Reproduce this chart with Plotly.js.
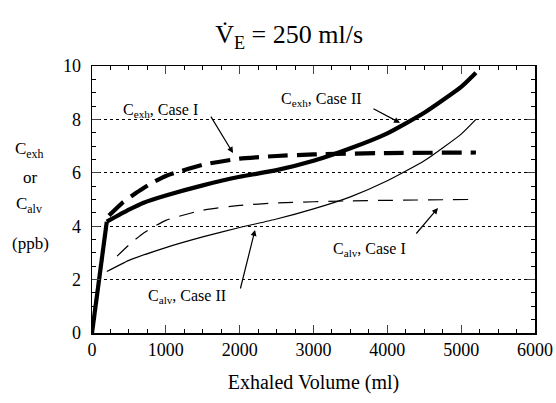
<!DOCTYPE html>
<html><head><meta charset="utf-8">
<script src="https://cdn.plot.ly/plotly-3.0.1.min.js"></script>
<style>body{margin:0;background:#fff}#c{width:556px;height:403px}</style>
</head><body><div id="c"></div>
<script>
// Exhaled volume (ml) and concentrations (ppb)
const volRise   = [0, 200];
const cexhRise  = [0, 4.17];
const volCexhII = [200, 500, 700, 1000, 1500, 2000, 2500, 3000, 3500, 4000, 4500, 5000, 5200];
const cexhII    = [4.17, 4.62, 4.88, 5.15, 5.53, 5.85, 6.1, 6.45, 6.92, 7.48, 8.25, 9.22, 9.75];
const volCexhI  = [230, 400, 600, 800, 1000, 1500, 2000, 2500, 3000, 4000, 5200];
const cexhI     = [4.4, 4.85, 5.25, 5.6, 5.88, 6.3, 6.53, 6.63, 6.69, 6.74, 6.76];
const volCalvI  = [340, 500, 700, 1000, 1500, 2000, 2500, 3500, 5100];
const calvI     = [2.88, 3.3, 3.75, 4.22, 4.6, 4.78, 4.87, 4.95, 5.0];
const volCalvII = [200, 500, 1000, 1500, 2000, 2500, 3000, 3500, 4000, 4500, 5000, 5200];
const calvII    = [2.3, 2.72, 3.2, 3.6, 3.95, 4.27, 4.65, 5.1, 5.7, 6.45, 7.45, 8.0];
const xTicks = [0, 1000, 2000, 3000, 4000, 5000, 6000];
const yTicks = [0, 2, 4, 6, 8, 10];

const F = "Liberation Serif";
const traces = [
  {x: volRise, y: cexhRise, mode: 'lines', line: {color: '#000', width: 4.2}},
  {x: volCexhII, y: cexhII, mode: 'lines', line: {color: '#000', width: 4.2, shape: 'spline', smoothing: 0.5}},
  {x: volCexhI, y: cexhI, mode: 'lines', line: {color: '#000', width: 4.2, dash: '20px,9px', shape: 'spline', smoothing: 0.5}},
  {x: volCalvI, y: calvI, mode: 'lines', line: {color: '#000', width: 1.2, dash: '15px,10px', shape: 'spline', smoothing: 0.5}},
  {x: volCalvII, y: calvII, mode: 'lines', line: {color: '#000', width: 1.2, shape: 'spline', smoothing: 0.5}}
];

const tf = {family: F, size: 16, color: '#000'};
const ar = {text: '', showarrow: true, axref: 'x', ayref: 'y', arrowhead: 2, arrowsize: 1, arrowwidth: 1.2, arrowcolor: '#000'};
const lf = {family: F, size: 17, color: '#000'};
const lab = {xref: 'paper', yref: 'paper', xanchor: 'center', yanchor: 'middle', showarrow: false, font: lf};
const ann = [
  {x: 921, y: 8.35, text: 'C<sub>exh</sub>, Case I', showarrow: false, font: tf},
  {x: 3115, y: 8.73, text: 'C<sub>exh</sub>, Case II', showarrow: false, font: tf},
  {x: 3752, y: 3.11, text: 'C<sub>alv</sub>, Case I', showarrow: false, font: tf},
  {x: 1287, y: 1.35, text: 'C<sub>alv</sub>, Case II', showarrow: false, font: tf},
  Object.assign({x: 1910, y: 6.74, ax: 1598, ay: 8.16}, ar),
  Object.assign({x: 4172, y: 7.87, ax: 3792, ay: 8.43}, ar),
  Object.assign({x: 4686, y: 4.68, ax: 4375, ay: 3.67}, ar),
  Object.assign({x: 2208, y: 3.86, ax: 2005, ay: 1.61}, ar),
  Object.assign({x: -0.14, y: 0.685, text: 'C<sub>exh</sub>'}, lab),
  Object.assign({x: -0.138, y: 0.584, text: 'or'}, lab),
  Object.assign({x: -0.142, y: 0.48, text: 'C<sub>alv</sub>'}, lab),
  Object.assign({x: -0.138, y: 0.337, text: '(ppb)'}, lab)
];

const layout = {
  width: 556, height: 403,
  margin: {l: 92, r: 21, t: 66, b: 70},
  paper_bgcolor: '#fff', plot_bgcolor: '#fff',
  showlegend: false,
  font: {family: F, color: '#000'},
  title: {text: 'V\u0307<sub>E</sub> = 250 ml/s', font: {family: F, size: 26, color: '#000'}, x: 0.52, xanchor: 'center', y: 0.915, yanchor: 'middle'},
  xaxis: {range: [0, 6000], tickvals: xTicks, ticktext: xTicks.map(String), ticks: 'inside', ticklen: 8, tickwidth: 1,
    showline: true, linecolor: '#000', linewidth: 1.5, mirror: 'ticks', showgrid: false, zeroline: false,
    tickfont: {family: F, size: 18, color: '#000'},
    minor: {dtick: 250, ticks: 'inside', ticklen: 4, tickcolor: '#000', showgrid: false},
    title: {text: 'Exhaled Volume (ml)', font: {family: F, size: 20, color: '#000'}, standoff: 16}},
  yaxis: {range: [0, 10], tickvals: yTicks, ticktext: yTicks.map(String), ticks: 'inside', ticklen: 8, tickwidth: 1,
    showline: true, linecolor: '#000', linewidth: 1.5, mirror: 'ticks', showgrid: true, gridcolor: '#000', griddash: 'dot', gridwidth: 1,
    zeroline: false, tickfont: {family: F, size: 18, color: '#000'}, ticklabelstandoff: 6,
    minor: {dtick: 0.5, ticks: 'inside', ticklen: 4, tickcolor: '#000', showgrid: false}},
  annotations: ann
};
Plotly.newPlot('c', traces, layout, {staticPlot: true});
</script></body></html>
